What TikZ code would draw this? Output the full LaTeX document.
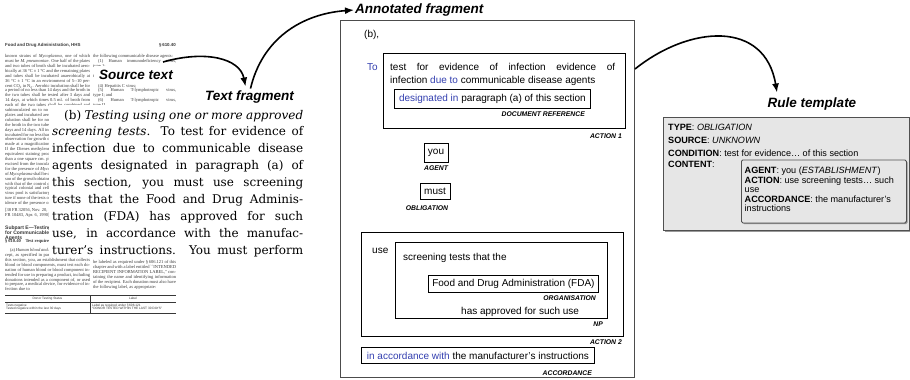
\documentclass[tikz,border=0pt]{standalone}
\usepackage{fontspec}
\setmainfont{Liberation Sans}
\newfontfamily\fragfont{DejaVu Serif}
\newfontfamily\pagefont{Liberation Serif}
\usetikzlibrary{arrows.meta,shadows}

\definecolor{annblue}{RGB}{50,62,175}
\definecolor{rulefill}{RGB}{230,230,230}
\definecolor{ruleedge}{RGB}{80,80,80}
\definecolor{pagegray}{RGB}{55,55,55}

% font set-ups
\newcommand\pagetext{\pagefont\fontsize{4.5}{4.9}\selectfont\color{pagegray}%
  \tolerance=9999\emergencystretch=4pt\hbadness=10000\parindent=0pt}
\newcommand\pagehead{\fontsize{4.4}{4.9}\selectfont\bfseries\color{pagegray}}
\newcommand\annsize{\fontsize{10}{12.5}\selectfont}
\newcommand\tagsize{\fontsize{6.8}{8}\selectfont\bfseries\itshape}
\newcommand\titlesize{\fontsize{13.5}{16}\selectfont\bfseries\itshape}
\newcommand\rulesize{\fontsize{9.1}{13}\selectfont}

\begin{document}
\begin{tikzpicture}[x=1pt,y=-1pt,
  abox/.style={draw=black, line width=0.85pt, inner sep=0, font=\annsize},
  annt/.style={font=\annsize, inner sep=0},
  tag/.style={font=\tagsize, inner sep=0},
  lbl/.style={font=\titlesize, inner sep=0},
  flow/.style={line width=1.6pt, -{Latex[length=9pt,width=7pt]}},
  rulebox/.style={draw=ruleedge, line width=0.8pt, fill=rulefill,
    drop shadow={shadow xshift=1.2pt, shadow yshift=-1.2pt, fill=black!50, opacity=0.8}},
  tline/.style={draw=pagegray, line width=0.6pt}]

\useasboundingbox (0,0) rectangle (910,380);

% ---------------- source page ----------------
\node[anchor=base west, inner sep=0] (pghead) at (5,46.5)
  {\pagehead Food and Drug Administration, HHS};
\node[anchor=base east, inner sep=0] (pgsec) at (176,46.5)
  {\pagehead \S\,610.40};

\node[anchor=base west, inner sep=0] (colL) at (5,54.5) {\parbox[t]{85pt}{\pagetext
known strains of \textit{Mycoplasma}, one of which must be \textit{M.~pneumoniae}.
One half of the plates and two tubes of broth shall be incubated aerobically at
36~°C ± 1~°C and the remaining plates and tubes shall be incubated anaerobically
at 36~°C ± 1~°C in an environment of 5--10 percent CO\textsubscript{2} in
N\textsubscript{2}. Aerobic incubation shall be for a period of no less than 14
days and the broth in the two tubes shall be tested after 3 days and 14 days, at
which times 0.5 ml. of broth from each of the two tubes shall be combined and
subinoculated on to no less than 4 additional plates and incubated aerobically.
Anaerobic incubation shall be for no less than 14 days and the broth in the two
tubes shall be tested after 3 days and 14 days. All inoculated plates shall be
incubated for no less than 14 days, at which time observation for growth of
\textit{Mycoplasma} shall be made at a magnification of no less than 300×. If the
Dienes methylene blue-azure dye or an equivalent staining procedure is used, no
less than a one square cm. plug of the agar shall be excised from the inoculated
area and examined for the presence of \textit{Mycoplasma}. The presence of
\textit{Mycoplasma} shall be determined by comparison of the growth obtained from
the test samples with that of the control cultures, with respect to typical colonial
and cellular morphology. The virus pool is satisfactory for vaccine manufacture if
none of the tests on the samples show evidence of the presence of
\textit{Mycoplasma}.\par\vspace{2pt}
[38 FR 32056, Nov. 20, 1973, as amended at 55 FR 10483, Apr. 6, 1990]}};

\node[anchor=base west, inner sep=0] (subpart) at (5,225.5) {\parbox[t]{85pt}{%
  \fontsize{5}{5}\selectfont\bfseries\color{pagegray}\raggedright
  \hangindent=9pt\hangafter=1
  Subpart E---Testing Requirements\\for Communicable Disease\\Agents}};

\node[anchor=base west, inner sep=0] (sec) at (5,242.5)
  {\pagefont\fontsize{4.6}{5}\selectfont\bfseries\color{pagegray}\S\,610.40\quad Test requirements.};

\node[anchor=base west, inner sep=0] (colLb) at (5,248.5) {\parbox[t]{85pt}{\pagetext
\hspace*{5pt}(a) \textit{Human blood and blood components.} Except, as specified in
paragraphs (c) and (d) of this section, you, an establishment that collects blood
or blood components, must test each donation of human blood or blood component
intended for use in preparing a product, including donations intended as a
component of, or used to prepare, a medical device, for evidence of infection
due to}};

\node[anchor=base west, inner sep=0] (colR) at (93,54.5) {\parbox[t]{83pt}{\pagetext
the following communicable disease agents:\par
\hspace*{5pt}(1) Human immunodeficiency virus,\linebreak type 1;\par
\hspace*{5pt}(2) Human immunodeficiency virus,\linebreak type 2;\par
\hspace*{5pt}(3) Hepatitis B virus;\par
\hspace*{5pt}(4) Hepatitis C virus;\par
\hspace*{5pt}(5) Human T-lymphotropic virus,\linebreak type I; and\par
\hspace*{5pt}(6) Human T-lymphotropic virus,\linebreak type II.}};

\node[anchor=base west, inner sep=0] (colRb) at (93,260.5) {\parbox[t]{83pt}{\pagetext
be labeled as required under \S\,606.121 of this chapter and with a label entitled
``INTENDED RECIPIENT INFORMATION LABEL,'' containing the name and identifying
information of the recipient. Each donation must also have the following label,
as appropriate:}};

% table at the foot of the page
\draw[tline, line width=0.8pt] (5,295) -- (176,295);
\draw[tline] (5,302) -- (176,302);
\draw[tline, line width=0.8pt] (5,313) -- (176,313);
\draw[tline] (90,295) -- (90,313);
\node[inner sep=0, font=\fontsize{3.2}{3.6}\selectfont, text=pagegray] (th1) at (47.5,298.7) {Donor Testing Status};
\node[inner sep=0, font=\fontsize{3.2}{3.6}\selectfont, text=pagegray] (th2) at (133,298.7) {Label};
\node[anchor=north west, inner sep=0, font=\fontsize{3.2}{3.8}\selectfont, text=pagegray, align=left] (td1) at (6,303.5)
  {Tests negative\\Tested negative within the last 30 days};
\node[anchor=north west, inner sep=0, font=\fontsize{3.2}{3.8}\selectfont, text=pagegray, align=left] (td2) at (92,303.5)
  {Label as required under \S\,606.121\\``DONOR TESTED WITHIN THE LAST 30 DAYS''};

% ---------------- text fragment ----------------
\node[fill=white, inner sep=0, minimum width=256, minimum height=152, anchor=north west] (fragbg) at (49,105) {};
\node[anchor=base west, inner sep=0] (frag) at (52,119) {\parbox[t]{251pt}{%
  \fragfont\fontsize{12}{16.9}\selectfont\parindent=0pt
  \makebox[251pt][s]{\hspace*{12pt}(b) \textit{Testing using one or more approved}}\\
  \makebox[251pt][s]{\textit{screening tests}. To test for evidence of}\\
  \makebox[251pt][s]{infection due to communicable disease}\\
  \makebox[251pt][s]{agents designated in paragraph (a) of}\\
  \makebox[251pt][s]{this section, you must use screening}\\
  \makebox[251pt][s]{tests that the Food and Drug Adminis-}\\
  \makebox[251pt][s]{tration (FDA) has approved for such}\\
  \makebox[251pt][s]{use, in accordance with the manufac-}\\
  \makebox[251pt][s]{turer’s instructions. You must perform}}};

\node[lbl, fill=white, inner xsep=5pt, inner ysep=4pt] (srclbl) at (136,75) {Source text};
\node[lbl] (fraglbl) at (249.5,97) {Text fragment};

% ---------------- annotated fragment ----------------
\node[draw=black!70, line width=0.8pt, minimum width=294, minimum height=357, anchor=north west] (annbox) at (340,20) {};
\node[lbl, anchor=base west] (annlbl) at (355,13.5) {Annotated fragment};

\node[annt, anchor=base west] (bref) at (364,37.5) {(b),};
\node[annt, anchor=base west, text=annblue] (to) at (367,70) {To};

\node[abox, minimum width=242, minimum height=75, anchor=north west] (act1) at (383,53) {};
\node[annt, anchor=base west] (act1a) at (390,70)
  {\makebox[225pt][s]{test for evidence of infection evidence of}};
\node[annt, anchor=base west] (act1b) at (390,83)
  {infection \textcolor{annblue}{due to} communicable disease agents};
\node[abox, minimum width=196, minimum height=19, anchor=north west] (docref) at (394,89)
  {\textcolor{annblue}{designated in} paragraph (a) of this section};
\node[tag, anchor=base east] (doctag) at (585,116) {DOCUMENT REFERENCE};
\node[tag, anchor=base east] (act1tag) at (622,138.5) {ACTION 1};

\node[abox, minimum width=24, minimum height=19] (you) at (436,152.5) {you};
\node[tag, anchor=base] (agenttag) at (436,170) {AGENT};

\node[abox, minimum width=30, minimum height=16] (must) at (435,191) {must};
\node[tag, anchor=base] (obltag) at (427,210) {OBLIGATION};

\node[abox, minimum width=262, minimum height=104, anchor=north west] (act2) at (361,232) {};
\node[annt, anchor=base west] (use) at (372,253) {use};
\node[tag, anchor=base east] (act2tag) at (622,344) {ACTION 2};

\node[abox, minimum width=212, minimum height=76, anchor=north west] (np) at (395,242) {};
\node[annt, anchor=base west] (npa) at (403,260.5) {screening tests that the};
\node[abox, minimum width=170, minimum height=17, anchor=north west] (fda) at (428,275)
  {Food and Drug Administration (FDA)};
\node[tag, anchor=base east] (orgtag) at (596,300.5) {ORGANISATION};
\node[annt, anchor=base west] (npb) at (461,314.5) {has approved for such use};
\node[tag, anchor=base east] (nptag) at (603,326) {NP};

\node[abox, minimum width=233, minimum height=16, anchor=north west] (acc) at (361,347)
  {\textcolor{annblue}{in accordance with} the manufacturer’s instructions};
\node[tag, anchor=base east] (acctag) at (592,375) {ACCORDANCE};

% ---------------- rule template ----------------
\node[lbl] (rulelbl) at (812,104) {Rule template};
\node[rulebox, minimum width=246, minimum height=113, anchor=north west] (rule) at (663,117) {};
\node[anchor=base west, inner sep=0] (rulebody) at (668,130.5) {\parbox[t]{236pt}{%
  \rulesize
  \textbf{TYPE}: \textit{OBLIGATION}\\
  \textbf{SOURCE}: \textit{UNKNOWN}\\
  \textbf{CONDITION}: test for evidence… of this section}};
\node[anchor=base west, inner sep=0, font=\rulesize] (contentkey) at (668,167.5) {\textbf{CONTENT}:};
\node[rulebox, rounded corners=1.5pt, minimum width=165, minimum height=63, anchor=north west] (content) at (741,159.5) {};
\node[anchor=base west, inner sep=0] (contentbody) at (744.5,173.5) {\parbox[t]{158pt}{%
  \fontsize{9.1}{9.6}\selectfont
  \textbf{AGENT}: you (\textit{ESTABLISHMENT})\\
  \textbf{ACTION}: use screening tests… such\\
  use\\
  \textbf{ACCORDANCE}: the manufacturer’s\\
  instructions}};

% ---------------- connectors ----------------
\coordinate (srcout) at (163,62);
\coordinate (fragin) at ([shift={(-4,-4)}]fraglbl.north);
\coordinate (fragout) at ([shift={(1,-2)}]fraglbl.north);
\coordinate (annout) at (635,69);
\coordinate (rulein) at ([shift={(-35,-5)}]rulelbl.north);

\draw[flow] (srcout) .. controls (205,50) and (240,58) .. (fragin);
\draw[flow] (fragout) .. controls (262,40) and (300,14) .. ([xshift=-1pt]annlbl.west);
\draw[flow] (annout) .. controls (690,25) and (765,20) .. (rulein);
\end{tikzpicture}
\end{document}
